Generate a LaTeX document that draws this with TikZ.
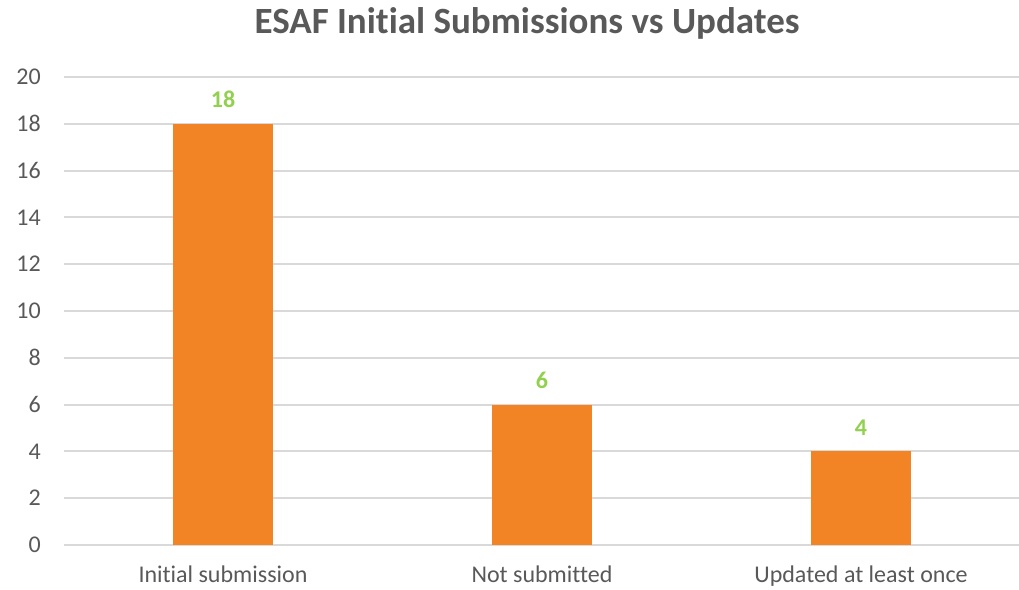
\documentclass[tikz,border=0pt]{standalone}
\usepackage{fontspec}
\setmainfont{Carlito}[Ligatures={NoCommon,NoContextual}]
\usepackage{tikz}
\usetikzlibrary{positioning}
\definecolor{barorange}{HTML}{F38425}
\definecolor{labelgreen}{HTML}{92D050}
\definecolor{axisgray}{HTML}{595959}
\definecolor{gridgray}{HTML}{D9D9D9}
\tikzset{
  chart/grid/.style={draw=gridgray, line width=2pt},
  chart/bar/.style={fill=barorange, draw=none},
  chart/tick/.style={anchor=east, text=axisgray, font=\fontsize{24}{28}\selectfont, inner sep=0pt},
  chart/cat/.style={anchor=base, text=axisgray, font=\fontsize{24}{28}\selectfont, inner sep=0pt},
  chart/value/.style={anchor=south, text=labelgreen, font=\bfseries\fontsize{24}{28}\selectfont, inner sep=0pt},
  chart/title/.style={text=axisgray, font=\bfseries\fontsize{37}{42}\selectfont, inner sep=0pt}
}

\begin{document}
\begin{tikzpicture}[x=1pt, y=1pt]
  \useasboundingbox (0,0) rectangle (1019,589);

  \node[chart/title] (title) at (527,566) {ESAF Initial Submissions vs Updates};

  % gridlines and y ticks, 23.4pt per unit
  \foreach \v in {0,2,...,20} {
    \draw[chart/grid] (64,44+23.4*\v) -- (1019,44+23.4*\v);
    \node[chart/tick] (tick\v) at (41,44+23.4*\v) {\v};
  }

  % bars
  \foreach \x/\h/\name/\txt in {223/18/init/Initial submission,
                                542/6/notsub/Not submitted,
                                861/4/upd/Updated at least once} {
    \fill[chart/bar] (\x-50,44) rectangle (\x+50,44+23.4*\h);
    \node[chart/value] (val-\name) at (\x,44+23.4*\h+16) {\h};
    \node[chart/cat] (cat-\name) at (\x,7) {\txt};
  }
\end{tikzpicture}
\end{document}
